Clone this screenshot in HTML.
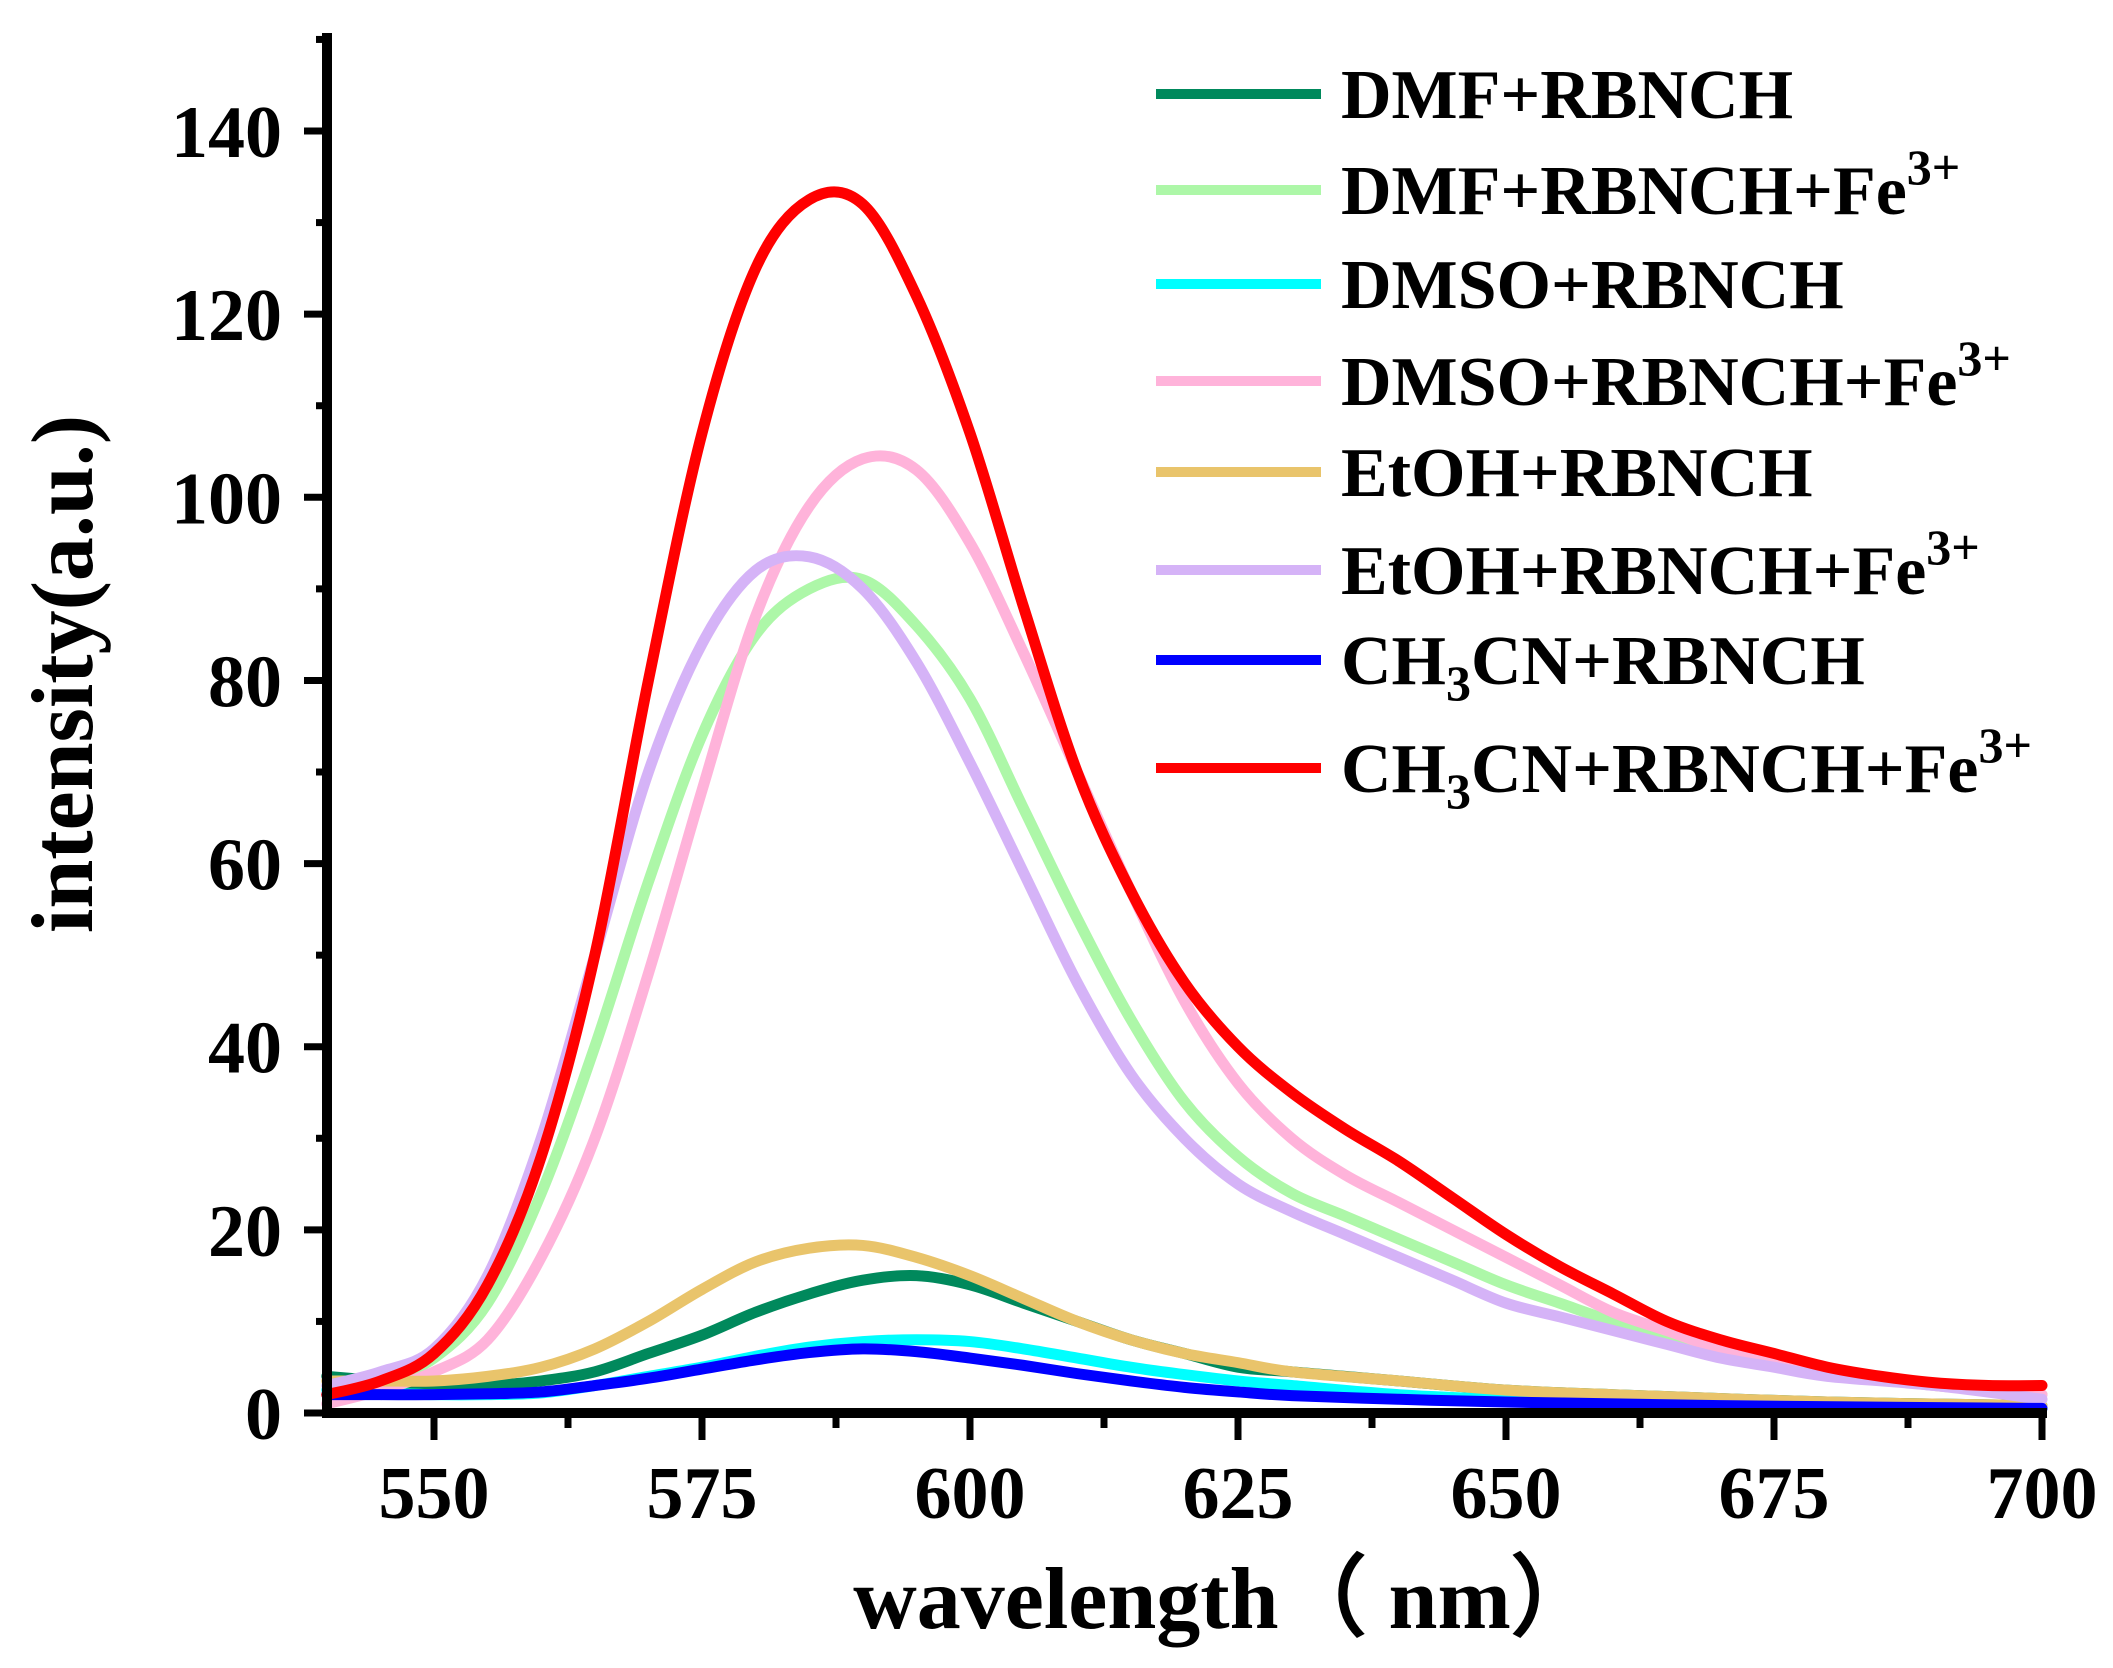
<!DOCTYPE html>
<html><head><meta charset="utf-8"><style>
html,body{margin:0;padding:0;background:#fff;}
svg{display:block;}
text{font-family:"Liberation Serif",serif;font-weight:bold;fill:#000;}
</style></head><body>
<svg id="s" width="2113" height="1668" viewBox="0 0 2113 1668" xmlns="http://www.w3.org/2000/svg">
<g id="curves" fill="none" stroke-width="11" stroke-linejoin="round" stroke-linecap="round"></g>
<g id="axes" stroke="#000" fill="none">
<line x1="327" y1="33" x2="327" y2="1418" stroke-width="10"/>
<line x1="322" y1="1413" x2="2047" y2="1413" stroke-width="10"/>
</g>
<g id="ticks" stroke="#000" stroke-width="7"></g>
<g id="labels" font-size="74" text-anchor="end"></g>
<g id="xlabels" font-size="74" text-anchor="middle"></g>
<text x="1226" y="1628" font-size="88" text-anchor="middle">wavelength（ nm）</text>
<text transform="translate(92,674) rotate(-90)" font-size="88" text-anchor="middle">intensity(a.u.)</text>
<g id="legend" font-size="70"></g>
</svg>
<script>
var X=function(w){return 434+(w-550)*10.72;};
var Y=function(v){return 1413-v*9.157;};
var NS="http://www.w3.org/2000/svg";
function el(t,a,p,txt){var e=document.createElementNS(NS,t);for(var k in a)e.setAttribute(k,a[k]);if(txt!==undefined)e.textContent=txt;p.appendChild(e);return e;}
var tk=document.getElementById('ticks'),lb=document.getElementById('labels'),xl=document.getElementById('xlabels');
for(var v=0;v<=150;v+=10){var maj=v%20==0;el('line',{x1:maj?304:316,x2:327,y1:Y(v),y2:Y(v)},tk);if(maj)el('text',{x:282,y:Y(v)+26},lb,String(v));}
for(var w=550;w<=700;w+=12.5){var maj=(w%25==0);el('line',{x1:X(w),x2:X(w),y1:1413,y2:maj?1440:1428},tk);if(maj)el('text',{x:X(w),y:1518},xl,String(w));}
var D={
red:[[540,2],[545,3.5],[550,6.5],[555,14],[560,28],[565,50],[570,80],[575,107],[580,125],[585,132.5],[590,132],[595,122],[600,107],[605,88],[610,70],[615,57],[620,47],[625,40],[630,35],[635,31],[640,27.5],[645,23.5],[650,19.5],[655,16],[660,13],[665,10],[670,8],[675,6.5],[680,5],[685,4],[690,3.3],[695,3],[700,3]],
pink:[[540,1],[545,2.5],[550,4.5],[555,8],[560,17],[565,30],[570,48],[575,68],[580,87],[585,99],[590,104.2],[595,103],[600,95],[605,83],[610,70],[615,57],[620,45],[625,36],[630,30],[635,26],[640,23],[645,20],[650,17],[655,14],[660,11],[665,9],[670,7],[675,5.7],[680,4.5],[690,3],[700,2]],
lgreen:[[540,2],[545,3.5],[550,6],[555,12],[560,24],[565,40],[570,58],[575,74],[580,85],[585,90],[590,91],[595,86],[600,78],[605,66],[610,54],[615,43],[620,34],[625,28],[630,24],[635,21.5],[640,19],[645,16.5],[650,14],[655,12],[660,10],[665,8.5],[670,7],[675,5.7],[680,4.5],[690,3],[700,2]],
lav:[[540,3],[545,4.5],[550,7],[555,15],[560,30],[565,50],[570,70],[575,84],[580,92],[585,93.5],[590,90],[595,82],[600,71],[605,59],[610,47],[615,37],[620,30],[625,25],[630,22],[635,19.5],[640,17],[645,14.5],[650,12],[655,10.5],[660,9],[665,7.5],[670,6],[675,5],[680,4],[690,3],[700,1.5]],
tan:[[540,3.5],[545,3.5],[550,3.5],[555,4],[560,5],[565,7],[570,10],[575,13.5],[580,16.5],[585,18],[590,18.3],[595,17],[600,15],[605,12.5],[610,10],[615,8],[620,6.5],[625,5.5],[630,4.5],[640,3.5],[650,2.5],[660,2],[680,1.2],[700,0.8]],
dgreen:[[540,4],[545,3.5],[550,3],[555,3],[560,3.5],[565,4.5],[570,6.5],[575,8.5],[580,11],[585,13],[590,14.5],[595,15],[600,14],[605,12],[610,10],[615,8],[620,6.5],[625,5],[630,4.5],[640,3.5],[650,2.5],[660,2],[680,1.2],[700,0.8]],
cyan:[[540,2.5],[545,2.2],[550,2],[555,2],[560,2.2],[565,3],[570,4],[575,5],[580,6.2],[585,7.2],[590,7.8],[595,8],[600,7.8],[605,7],[610,6],[615,5],[620,4.2],[625,3.5],[630,3],[640,2],[650,1.5],[670,1],[700,0.5]],
blue:[[540,2],[545,2],[550,2],[555,2.1],[560,2.3],[565,3],[570,3.8],[575,4.8],[580,5.8],[585,6.6],[590,7],[595,6.7],[600,6],[605,5.2],[610,4.3],[615,3.5],[620,2.8],[625,2.3],[630,1.9],[640,1.5],[650,1.2],[670,0.8],[700,0.5]]};
var C={dgreen:'#00895C',lgreen:'#ADF7A8',cyan:'#00FFFF',pink:'#FFB3DA',tan:'#E9C46B',lav:'#D5B3F7',blue:'#0000FF',red:'#FF0000'};
function path(pts){var p=pts.map(function(a){return [X(a[0]),Y(a[1])];});var d='M'+p[0][0]+','+p[0][1];
for(var i=0;i<p.length-1;i++){var p0=p[i-1]||p[i],p1=p[i],p2=p[i+1],p3=p[i+2]||p2;
d+=' C'+(p1[0]+(p2[0]-p0[0])/6)+','+(p1[1]+(p2[1]-p0[1])/6)+' '+(p2[0]-(p3[0]-p1[0])/6)+','+(p2[1]-(p3[1]-p1[1])/6)+' '+p2[0]+','+p2[1];}return d;}
var cg=document.getElementById('curves');
['dgreen','lgreen','cyan','pink','tan','lav','blue','red'].forEach(function(k){el('path',{d:path(D[k]),stroke:C[k]},cg);});
var lg=document.getElementById('legend');
var L=[['dgreen',94,'DMF+RBNCH'],['lgreen',190,'DMF+RBNCH+Fe',1],['cyan',284,'DMSO+RBNCH'],['pink',381,'DMSO+RBNCH+Fe',1],['tan',472,'EtOH+RBNCH'],['lav',570,'EtOH+RBNCH+Fe',1],['blue',660,'CH|3|CN+RBNCH'],['red',768,'CH|3|CN+RBNCH+Fe',1]];
L.forEach(function(r){el('line',{x1:1156,x2:1321,y1:r[1],y2:r[1],stroke:C[r[0]],'stroke-width':10},lg);
var t=el('text',{x:1341,y:r[1]+24},lg);var parts=r[2].split('|');
if(parts.length==3){el('tspan',{},t,parts[0]);el('tspan',{dy:16,'font-size':50},t,parts[1]);el('tspan',{dy:-16},t,parts[2]);}else{el('tspan',{},t,parts[0]);}
if(r[3]){el('tspan',{dy:-30,'font-size':50},t,'3+');}});
</script>
</body></html>
